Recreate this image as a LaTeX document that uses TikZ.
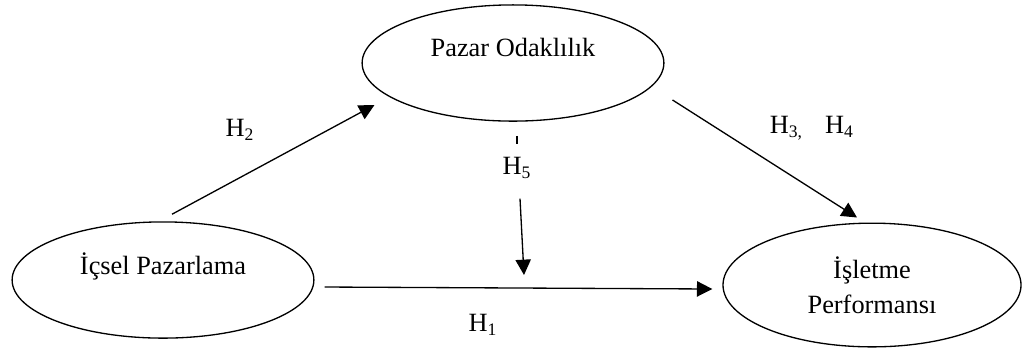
\documentclass[tikz,border=0pt]{standalone}
\usepackage{fontspec}
\setmainfont{Liberation Serif}
\usetikzlibrary{arrows.meta,shapes.geometric,calc}

\begin{document}
\begin{tikzpicture}[x=0.016cm,y=-0.016cm,font=\fontsize{12}{16}\selectfont,
  >={Triangle[length=7pt,width=7pt]},line width=0.6pt,
  oval/.style={draw,ellipse,inner sep=0pt,minimum width=4.83cm,minimum height=1.86cm},
  upper/.style={text depth=14.5pt}]
  \useasboundingbox (0,0) rectangle (1022,349);
  % constructs
  \node[oval,upper] (po) at (513,63) {Pazar Odaklılık};
  \node[oval,upper] (ip) at (163,280) {İçsel Pazarlama};
  \node[oval,align=center,minimum width=4.77cm,minimum height=1.98cm] (ie) at (872,285)
    {İşletme\\Performansı};
  % hypotheses
  \node (h2) at (240,130) {H\textsubscript{2}};
  \node (h34) at (812,128) {H\textsubscript{3,}\hspace{10pt}H\textsubscript{4}};
  \node (h5) at (517,168) {H\textsubscript{5}};
  \node (h1) at (483,325) {H\textsubscript{1}};
  \coordinate (mid) at (524,275);
  \draw[->] ($(ip.north)+(9,-7)$) -- ($(po.west)+(13,42)$);
  \draw[->] ($(po.east)+(8,37)$) -- ($(ie.north)+(-15,-5)$);
  \draw[->] ($(ip.east)+(10,7)$) -- ($(ie.west)+(-10,4)$);
  \draw ($(po.south)+(4,14)$) -- ($(po.south)+(4,22)$);
  \draw[->] ($(h5.south)+(3,12)$) -- (mid);
\end{tikzpicture}
\end{document}
